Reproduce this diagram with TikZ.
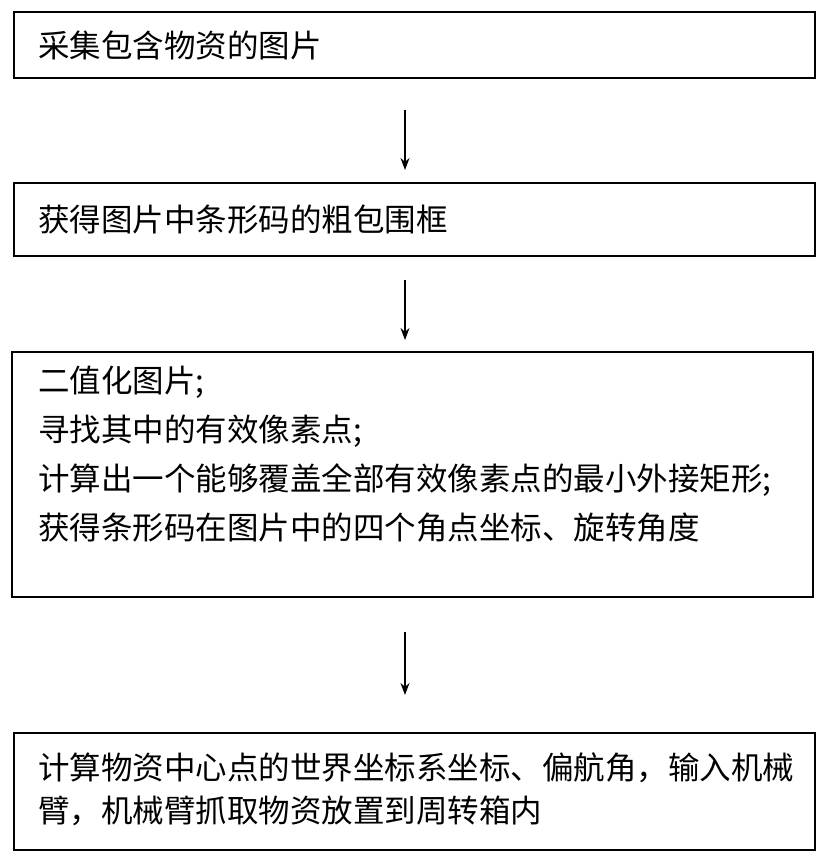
\documentclass[tikz,border=0pt]{standalone}
\usepackage{fontspec}
\usetikzlibrary{arrows.meta}
\newfontfamily\cjk{Noto Sans CJK SC}
\begin{document}
\begin{tikzpicture}[x=1pt,y=-1pt,
  box/.style={draw,line width=1.2pt},
  txt/.style={anchor=west,align=left,font=\cjk\fontsize{31.5}{49}\selectfont,inner sep=0pt},
  arr/.style={-{Stealth[length=12pt,width=9pt]},line width=1.2pt}]
\useasboundingbox (0,0) rectangle (830,858);
\draw[box] (14,12) rectangle (815,78);
\node[txt] (t1) at (38,45) {采集包含物资的图片};
\draw[box] (14,183) rectangle (815,256);
\node[txt] (t2) at (38,220) {获得图片中条形码的粗包围框};
\draw[box] (12,352) rectangle (813,597);
\node[txt,anchor=north west] (t3) at (38,366) {二值化图片;\\寻找其中的有效像素点;\\计算出一个能够覆盖全部有效像素点的最小外接矩形;\\获得条形码在图片中的四个角点坐标、旋转角度};
\draw[box] (14,733) rectangle (815,850);
\node[txt,anchor=north west,font=\cjk\fontsize{31.5}{43}\selectfont] (t4) at (38,752) {计算物资中心点的世界坐标系坐标、偏航角，输入机械\\臂，机械臂抓取物资放置到周转箱内};
\coordinate (a1) at (405,110); \coordinate (b1) at (405,170);
\coordinate (a2) at (405,280); \coordinate (b2) at (405,340);
\coordinate (a3) at (405,632); \coordinate (b3) at (405,695);
\draw[arr] (a1)--(b1); \draw[arr] (a2)--(b2); \draw[arr] (a3)--(b3);
\end{tikzpicture}
\end{document}
